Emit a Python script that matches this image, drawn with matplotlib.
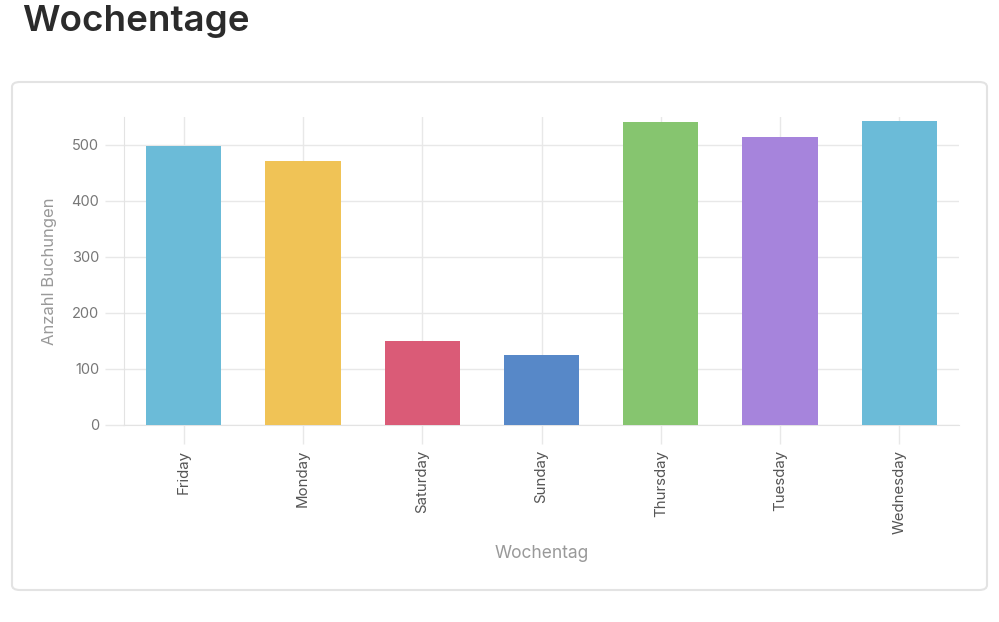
import matplotlib
matplotlib.use('Agg')
import matplotlib.pyplot as plt
from matplotlib.patches import FancyBboxPatch

# data
days = ['Friday', 'Monday', 'Saturday', 'Sunday', 'Thursday', 'Tuesday', 'Wednesday']
bookings = [499, 471, 150, 125, 541, 514, 543]
bar_colors = ['#6bbbd8', '#f0c356', '#da5b77', '#5788c8', '#86c56f', '#a684dc', '#6bbbd8']
y_ticks = [0, 100, 200, 300, 400, 500]

plt.rcParams['font.family'] = ['Inter', 'DejaVu Sans']

fig = plt.figure(figsize=(9.99, 6.22), dpi=100)
W, H = 999, 622

# page title
fig.text(22 / W, 1 - 22 / H, 'Wochentage', fontsize=26.5, fontweight='semibold',
         color='#2b2b2b', ha='left', va='center')

# card around the chart (drawn behind the axes)
card = FancyBboxPatch((12 / W, 32 / H), 975 / W, 508 / H,
                      boxstyle='round,pad=0,rounding_size=0.008',
                      transform=fig.transFigure, facecolor='white',
                      edgecolor='#e3e3e3', linewidth=1.5, zorder=-5)
fig.patches.append(card)

ax = fig.add_axes([124 / W, 197 / H, 835 / W, 308 / H], zorder=2)
ax.set_facecolor('none')

x = list(range(len(days)))
ax.bar(x, bookings, width=0.63, color=bar_colors, zorder=3)

ax.set_xlim(-0.5, len(days) - 0.5)
ax.set_ylim(0, 550)
ax.set_yticks(y_ticks)
ax.set_xticks(x)
ax.set_xticklabels(days, rotation=90, fontsize=10.8, color='#555555')
ax.tick_params(axis='y', labelsize=10.5, labelcolor='#777777', length=14,
               color='#e8e8e8', width=1, pad=4)
ax.tick_params(axis='x', length=14, color='#e8e8e8', width=1, pad=4)

ax.grid(True, color='#e8e8e8', linewidth=1, zorder=0)
for side in ['top', 'right']:
    ax.spines[side].set_visible(False)
ax.spines['left'].set_color('#e3e3e3')
ax.spines['bottom'].set_color('#e3e3e3')

ax.set_ylabel('Anzahl Buchungen', fontsize=12, color='#999999', labelpad=10)
ax.set_xlabel('Wochentag', fontsize=12.5, color='#999999', labelpad=8)

fig.savefig('out.png', dpi=100)
